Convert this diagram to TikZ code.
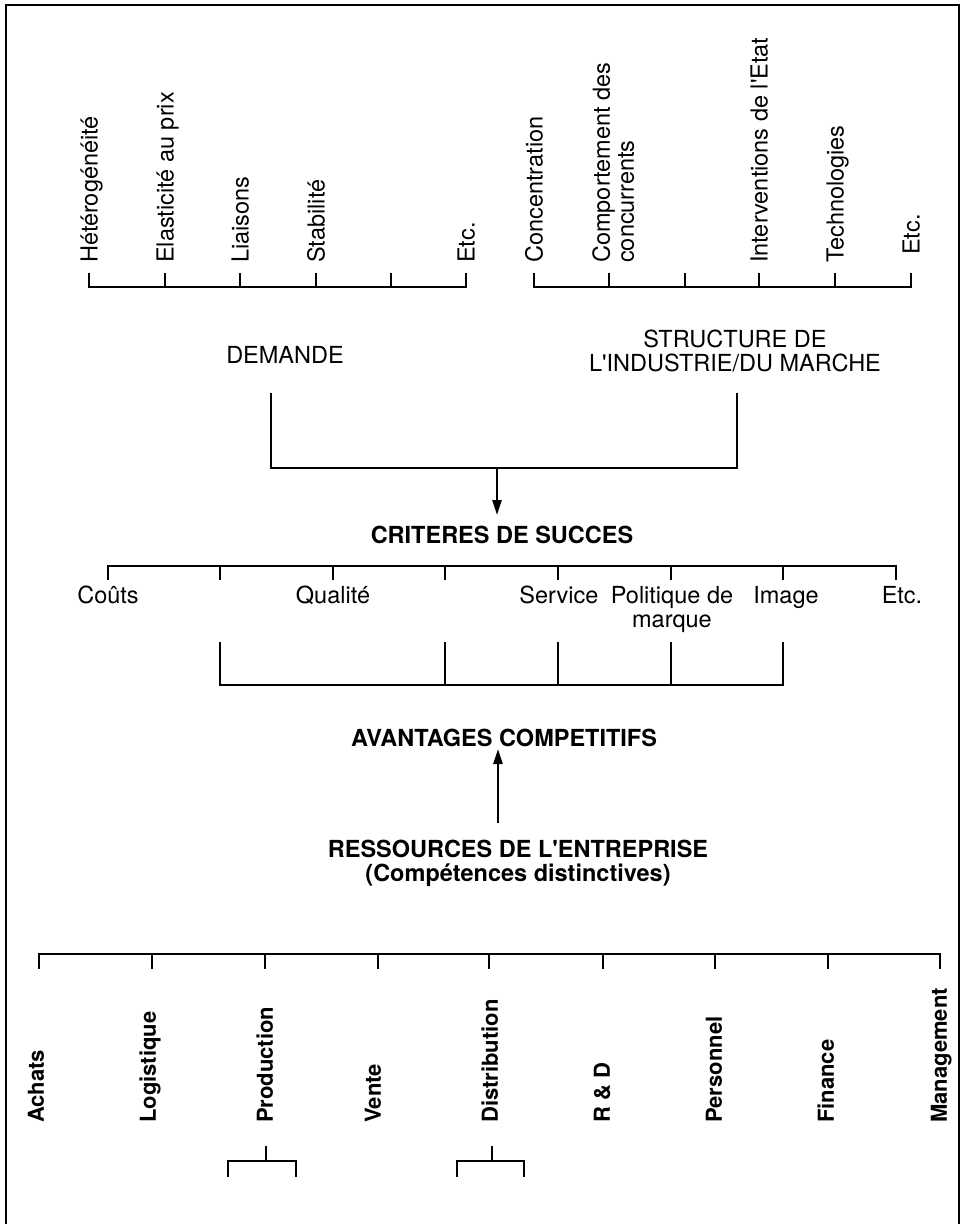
\documentclass[tikz,border=0pt]{standalone}
\usepackage{fontspec}
\setmainfont{TeX Gyre Heros}
\usetikzlibrary{arrows.meta}
\tikzset{
  ln/.style={line width=2.3pt, line join=miter},
  frame/.style={line width=2pt},
  arr/.style={ln, -{Triangle[length=15pt,width=9pt]}},
  lbl/.style={inner sep=0pt, font=\fontsize{23.5}{24}\selectfont},
  hl/.style={lbl, anchor=base},
  hlm/.style={lbl, align=center},
  bt/.style={lbl, anchor=base, font=\fontsize{23.5}{24}\selectfont\bfseries},
  btm/.style={lbl, align=center, font=\fontsize{23.5}{24}\selectfont\bfseries},
  vl/.style={lbl, rotate=90, anchor=west, text height=17pt, text depth=0pt},
  vlm/.style={lbl, rotate=90, align=left},
  vb/.style={lbl, rotate=90, anchor=west, font=\fontsize{22}{24}\selectfont\bfseries, text height=15.8pt, text depth=0pt}
}
\begin{document}
\begin{tikzpicture}[x=1pt,y=-1pt]
\useasboundingbox (0,0) rectangle (964,1224);
% frame (open at the bottom)
\coordinate (F1) at (6,1224);
\coordinate (F2) at (6,5);
\coordinate (F3) at (959,5);
\coordinate (F4) at (959,1224);
\draw[frame] (F1) -- (F2) -- (F3) -- (F4);

% ---------- top left bracket (DEMANDE factors)
\foreach \i/\x in {1/89,2/165,3/240,4/316,5/391,6/466}{
  \coordinate (A\i) at (\x,287);
  \coordinate (At\i) at (\x,273);
}
\draw[ln] (At1) -- (A1) -- (A6) -- (At6);
\foreach \i in {2,...,5} \draw[ln] (A\i) -- (At\i);
\node[vl] (h1) at (89,263) {Hétérogénéité};
\node[vl] (h2) at (165,263) {Elasticité au prix};
\node[vl] (h3) at (240,263) {Liaisons};
\node[vl] (h4) at (316,263) {Stabilité};
\node[vl] (h6) at (466,263) {Etc.};

% ---------- top right bracket (structure factors)
\foreach \i/\x in {1/534,2/609,3/685,4/759,5/835,6/911}{
  \coordinate (B\i) at (\x,287);
  \coordinate (Bt\i) at (\x,273);
}
\draw[ln] (Bt1) -- (B1) -- (B6) -- (Bt6);
\foreach \i in {2,...,5} \draw[ln] (B\i) -- (Bt\i);
\node[vl] (s1) at (534,263) {Concentration};
\node[vlm, anchor=north west] (s2) at (592,263) {Comportement des\\concurrents};
\node[vl] (s4) at (759,263) {Interventions de l\textquotesingle Etat};
\node[vl] (s5) at (835,263) {Technologies};
\node[vl] (s6) at (911,255) {Etc.};

% ---------- DEMANDE / STRUCTURE
\node[hl] (dem) at (285,363) {DEMANDE};
\node[hlm, anchor=north] (str) at (735,330) {STRUCTURE DE\\L\textquotesingle INDUSTRIE/DU MARCHE};
\coordinate (dm1) at (271,393);
\coordinate (dm2) at (271,468);
\coordinate (st1) at (737,393);
\coordinate (st2) at (737,468);
\coordinate (jn) at (497,468);
\coordinate (jt) at (497,515);
\draw[ln] (dm1) -- (dm2) -- (st2) -- (st1);
\draw[arr] (jn) -- (jt);

% ---------- CRITERES DE SUCCES
\node[bt] (crit) at (502,543) {CRITERES DE SUCCES};
\foreach \i/\x in {1/108,2/220,3/333,4/445,5/558,6/671,7/783,8/896}{
  \coordinate (C\i) at (\x,566);
  \coordinate (Ct\i) at (\x,580);
}
\draw[ln] (Ct1) -- (C1) -- (C8) -- (Ct8);
\foreach \i in {2,...,7} \draw[ln] (C\i) -- (Ct\i);
\node[hl] (cout) at (108,603) {Coûts};
\node[hl] (qual) at (333,603) {Qualité};
\node[hl] (serv) at (559,603) {Service};
\node[hlm, anchor=north] (pol) at (672,586) {Politique de\\marque};
\node[hl] (img) at (786,603) {Image};
\node[hl] (etc3) at (902,603) {Etc.};

% lower join bracket
\foreach \i/\x in {1/220,2/445,3/558,4/671,5/783}{
  \coordinate (L\i) at (\x,685);
  \coordinate (Lt\i) at (\x,642);
}
\draw[ln] (Lt1) -- (L1) -- (L5) -- (Lt5);
\foreach \i in {2,...,4} \draw[ln] (L\i) -- (Lt\i);

% ---------- AVANTAGES / RESSOURCES
\node[bt] (avan) at (504,746) {AVANTAGES COMPETITIFS};
\coordinate (rsA) at (498,823);
\coordinate (avA) at (498,749);
\draw[arr] (rsA) -- (avA);
\node[btm, anchor=north] (res) at (518,840) {RESSOURCES DE L\textquotesingle ENTREPRISE\\(Compétences distinctives)};

% ---------- bottom bracket (resources)
\foreach \i/\x in {1/39,2/152,3/265,4/378,5/489,6/603,7/715,8/828,9/940}{
  \coordinate (R\i) at (\x,954);
  \coordinate (Rt\i) at (\x,969);
}
\draw[ln] (Rt1) -- (R1) -- (R9) -- (Rt9);
\foreach \i in {2,...,8} \draw[ln] (R\i) -- (Rt\i);
\node[vb] (r1) at (36,1123) {Achats};
\node[vb] (r2) at (148,1123) {Logistique};
\node[vb] (r3) at (265,1123) {Production};
\node[vb] (r4) at (373,1123) {Vente};
\node[vb] (r5) at (490,1123) {Distribution};
\node[vb] (r6) at (602,1123) {R \& D};
\node[vb] (r7) at (714,1123) {Personnel};
\node[vb] (r8) at (826,1123) {Finance};
\node[vb] (r9) at (939,1123) {Management};

% sub-brackets
\coordinate (P0) at (266,1146);
\coordinate (P1) at (266,1161);
\coordinate (Pl) at (228,1161);
\coordinate (Pr) at (296,1161);
\coordinate (Plb) at (228,1177);
\coordinate (Prb) at (296,1177);
\draw[ln] (Plb) -- (Pl) -- (Pr) -- (Prb);
\draw[ln] (P0) -- (P1);
\coordinate (D0) at (492,1146);
\coordinate (D1) at (492,1161);
\coordinate (Dl) at (457,1161);
\coordinate (Dr) at (524,1161);
\coordinate (Dlb) at (457,1177);
\coordinate (Drb) at (524,1177);
\draw[ln] (Dlb) -- (Dl) -- (Dr) -- (Drb);
\draw[ln] (D0) -- (D1);
\end{tikzpicture}
\end{document}
